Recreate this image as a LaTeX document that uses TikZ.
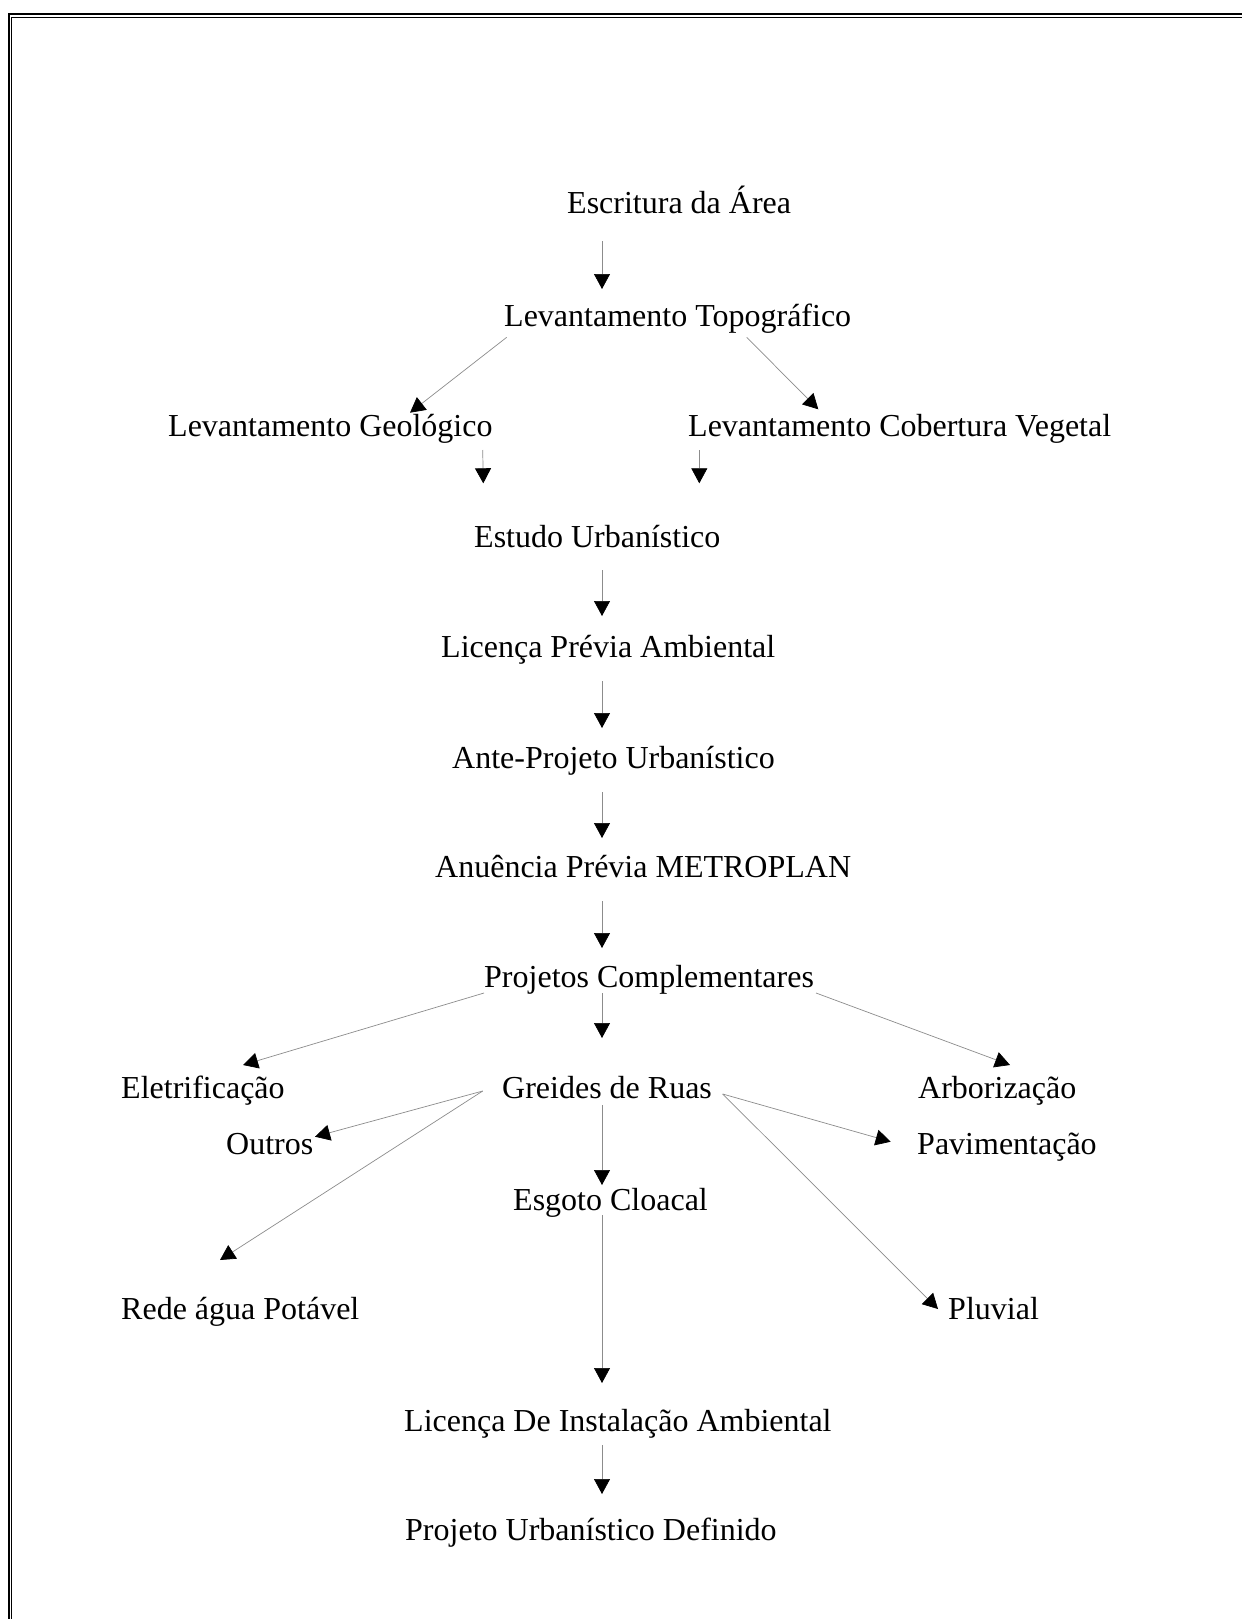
\documentclass[tikz,border=0pt]{standalone}
\usepackage{fontspec}
\setmainfont{Liberation Serif}
\usetikzlibrary{arrows.meta}
\begin{document}
\begin{tikzpicture}[x=1pt,y=-1pt,
  lbl/.style={anchor=base west,inner sep=0pt,font=\fontsize{32}{38}\selectfont},
  arr/.style={draw=black!45,line width=0.7pt,-{Triangle[width=16pt,length=15pt,color=black]}}]
\useasboundingbox (0,0) rectangle (1242,1619);
\fill[white] (0,0) rectangle (1242,1619);
% frame
\draw[line width=2pt] (9,1619) -- (9,14.3) -- (1242,14.3);
\draw[line width=1.3pt] (11.8,1619) -- (11.8,17.2) -- (1242,17.2);
% nodes
\node[lbl] (esc) at (567,213) {Escritura da Área};
\node[lbl] (top) at (504,326) {Levantamento Topográfico};
\node[lbl] (geo) at (168,436) {Levantamento Geológico};
\node[lbl] (veg) at (688,436) {Levantamento Cobertura Vegetal};
\node[lbl] (est) at (474,547) {Estudo Urbanístico};
\node[lbl] (lpa) at (441,657) {Licença Prévia Ambiental};
\node[lbl] (ant) at (452,768) {Ante-Projeto Urbanístico};
\node[lbl] (anu) at (435,877) {Anuência Prévia METROPLAN};
\node[lbl] (pro) at (484,987) {Projetos Complementares};
\node[lbl] (ele) at (121,1098) {Eletrificação};
\node[lbl] (gre) at (502,1098) {Greides de Ruas};
\node[lbl] (arb) at (918,1098) {Arborização};
\node[lbl] (out) at (226,1154) {Outros};
\node[lbl] (pav) at (917,1154) {Pavimentação};
\node[lbl] (esg) at (513,1210) {Esgoto Cloacal};
\node[lbl] (red) at (121,1319) {Rede água Potável};
\node[lbl] (plu) at (948,1319) {Pluvial};
\node[lbl] (lia) at (404,1431) {Licença De Instalação Ambiental};
\node[lbl] (pud) at (405,1540) {Projeto Urbanístico Definido};
% connector end points
\coordinate (a1s) at (602,241);  \coordinate (a1t) at (602,289);
\coordinate (a2s) at (506.7,337.3); \coordinate (a2t) at (410,412.7);
\coordinate (a3s) at (746.7,337.3); \coordinate (a3t) at (818.3,409.3);
\coordinate (a4s) at (482.7,450); \coordinate (a4t) at (483.3,483.3);
\coordinate (a5s) at (699.3,450); \coordinate (a5t) at (699.3,483.3);
\coordinate (a6s) at (602,570);  \coordinate (a6t) at (602,616);
\coordinate (a7s) at (602,681);  \coordinate (a7t) at (602,728);
\coordinate (a8s) at (602,792);  \coordinate (a8t) at (602,838);
\coordinate (a9s) at (602,901);  \coordinate (a9t) at (602,948);
\coordinate (b1s) at (602,993);  \coordinate (b1t) at (602,1038);
\coordinate (b2s) at (484,993);  \coordinate (b2t) at (243,1065);
\coordinate (b3s) at (816,993);  \coordinate (b3t) at (1010,1065);
\coordinate (c1s) at (482.7,1091); \coordinate (c1t) at (315,1136.7);
\coordinate (c2t) at (220,1260);
\coordinate (c3s) at (722.7,1094); \coordinate (c3t) at (890.7,1141.7);
\coordinate (c4t) at (938,1309);
\coordinate (d1s) at (602,1105); \coordinate (d1t) at (602,1185);
\coordinate (d2s) at (602,1215); \coordinate (d2t) at (602,1383);
\coordinate (d3s) at (602,1445); \coordinate (d3t) at (602,1494);
% connectors
\draw[arr] (a1s) -- (a1t);
\draw[arr] (a2s) -- (a2t);
\draw[arr] (a3s) -- (a3t);
\draw[arr] (a4s) -- (a4t);
\draw[arr] (a5s) -- (a5t);
\draw[arr] (a6s) -- (a6t);
\draw[arr] (a7s) -- (a7t);
\draw[arr] (a8s) -- (a8t);
\draw[arr] (a9s) -- (a9t);
\draw[arr] (b1s) -- (b1t);
\draw[arr] (b2s) -- (b2t);
\draw[arr] (b3s) -- (b3t);
\draw[arr] (c1s) -- (c1t);
\draw[arr] (c1s) -- (c2t);
\draw[arr] (c3s) -- (c3t);
\draw[arr] (c3s) -- (c4t);
\draw[arr] (d1s) -- (d1t);
\draw[arr] (d2s) -- (d2t);
\draw[arr] (d3s) -- (d3t);
\end{tikzpicture}
\end{document}
